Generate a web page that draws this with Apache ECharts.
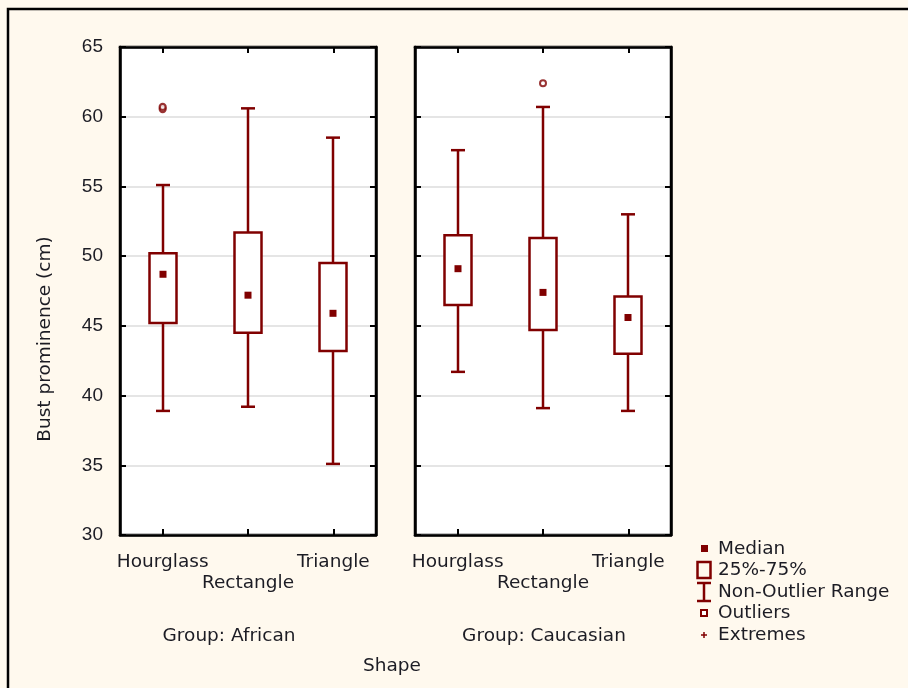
<!DOCTYPE html>
<html>
<head>
<meta charset="utf-8">
<script src="https://cdn.jsdelivr.net/npm/echarts@6/dist/echarts.min.js"></script>
<style>
  html, body { margin: 0; padding: 0; background: #FFF9EE; }
  #chart { width: 908px; height: 688px; }
</style>
</head>
<body>
<div id="chart"></div>
<script>
// Shapes along the x axis of each panel
const categories = ['Hourglass', 'Rectangle', 'Triangle'];
const groups = ['Group: African', 'Group: Caucasian'];

// Per shape: [index, min (non-outlier), Q1, median, Q3, max (non-outlier)]
const africanStats = [
  [0, 38.9, 45.2, 48.7, 50.2, 55.1],
  [1, 39.2, 44.5, 47.2, 51.7, 60.6],
  [2, 35.1, 43.2, 45.9, 49.5, 58.5]
];
const caucasianStats = [
  [0, 41.7, 46.5, 49.1, 51.5, 57.6],
  [1, 39.1, 44.7, 47.4, 51.3, 60.7],
  [2, 38.9, 43.0, 45.6, 47.1, 53.0]
];

// Outlying observations: [index, value]
const africanOutliers = [[0, 60.55], [0, 60.7]];
const caucasianOutliers = [[1, 62.4]];

// Value axis range
const yMin = 30, yMax = 65, yStep = 5;

const legendItems = ['Median', '25%-75%', 'Non-Outlier Range', 'Outliers', 'Extremes'];

const MAROON = '#800000';
const NUM_FONT = 'Liberation Sans, Arial, sans-serif';
const FONT = 'DejaVu Sans, sans-serif';
const TXT = '#1c1c24';
const FS = 19;
const WFS = 18.5;

function renderBox(params, api) {
  const idx = api.value(0);
  const pMin = api.coord([idx, api.value(1)]);
  const pQ1 = api.coord([idx, api.value(2)]);
  const pMed = api.coord([idx, api.value(3)]);
  const pQ3 = api.coord([idx, api.value(4)]);
  const pMax = api.coord([idx, api.value(5)]);
  const x = Math.round(pMin[0]);
  const hw = 13.5, cw = 7, lw = 2.5;
  const ls = () => ({ stroke: MAROON, lineWidth: lw, fill: null });
  return {
    type: 'group',
    children: [
      { type: 'line', shape: { x1: x, y1: pMax[1], x2: x, y2: pQ3[1] }, style: ls() },
      { type: 'line', shape: { x1: x, y1: pQ1[1], x2: x, y2: pMin[1] }, style: ls() },
      { type: 'line', shape: { x1: x - cw, y1: pMax[1], x2: x + cw, y2: pMax[1] }, style: ls() },
      { type: 'line', shape: { x1: x - cw, y1: pMin[1], x2: x + cw, y2: pMin[1] }, style: ls() },
      { type: 'rect', shape: { x: x - hw, y: pQ3[1], width: hw * 2, height: pQ1[1] - pQ3[1] },
        style: { stroke: MAROON, lineWidth: lw, fill: '#fff' } },
      { type: 'rect', shape: { x: x - 3.5, y: pMed[1] - 3.5, width: 7, height: 7 },
        style: { fill: MAROON } }
    ]
  };
}

const gridBase = { top: 47, height: 488, width: 256, show: true, backgroundColor: '#fff',
  borderColor: '#000', borderWidth: 2.5, containLabel: false };

function xAxisFor(gi, pos) {
  return {
    gridIndex: gi, type: 'category', data: categories, position: pos,
    axisLine: { show: true, lineStyle: { color: '#000', width: 2.5 } },
    axisTick: { show: true, inside: true, alignWithLabel: true, length: 6, lineStyle: { color: '#000', width: 2 } },
    axisLabel: pos === 'bottom' ? {
      show: true, color: TXT, fontFamily: FONT, fontSize: WFS, margin: 17, lineHeight: 21,
      interval: 0,
      formatter: (v, i) => (i === 1 ? '\n' + v : v)
    } : { show: false },
    splitLine: { show: false }
  };
}

function yAxisFor(gi, pos, labels, split) {
  return {
    gridIndex: gi, type: 'value', min: yMin, max: yMax, interval: yStep, position: pos,
    axisLine: { show: true, lineStyle: { color: '#000', width: 2.5 } },
    axisTick: { show: true, inside: true, length: 6, lineStyle: { color: '#000', width: 2 } },
    axisLabel: { show: labels, color: TXT, fontFamily: NUM_FONT, fontSize: FS, margin: 17 },
    splitLine: { show: split, lineStyle: { color: '#dcdcdc', width: 1.5 } }
  };
}

const legendY = [549, 570, 592, 613, 635];
const legendGraphics = [];
legendItems.forEach((t, i) => {
  legendGraphics.push({ type: 'text', x: 718, y: legendY[i],
    style: { text: t, fill: TXT, font: WFS + 'px ' + FONT, verticalAlign: 'middle' } });
});
legendGraphics.push(
  { type: 'rect', shape: { x: 701, y: legendY[0] - 4, width: 7, height: 7 }, style: { fill: MAROON } },
  { type: 'rect', shape: { x: 697.5, y: legendY[1] - 8, width: 13, height: 16 }, style: { fill: null, stroke: MAROON, lineWidth: 2.5 } },
  { type: 'line', shape: { x1: 697, y1: legendY[2] - 9, x2: 711, y2: legendY[2] - 9 }, style: { stroke: MAROON, lineWidth: 2.5 } },
  { type: 'line', shape: { x1: 704, y1: legendY[2] - 9, x2: 704, y2: legendY[2] + 9 }, style: { stroke: MAROON, lineWidth: 2.5 } },
  { type: 'line', shape: { x1: 697, y1: legendY[2] + 9, x2: 711, y2: legendY[2] + 9 }, style: { stroke: MAROON, lineWidth: 2.5 } },
  { type: 'rect', shape: { x: 701, y: legendY[3] - 3, width: 6, height: 6 }, style: { fill: '#fff', stroke: MAROON, lineWidth: 2 } },
  { type: 'line', shape: { x1: 701, y1: legendY[4], x2: 707, y2: legendY[4] }, style: { stroke: MAROON, lineWidth: 1.5 } },
  { type: 'line', shape: { x1: 704, y1: legendY[4] - 3, x2: 704, y2: legendY[4] + 3 }, style: { stroke: MAROON, lineWidth: 1.5 } }
);

const chart = echarts.init(document.getElementById('chart'), null, { renderer: 'canvas' });
chart.setOption({
  backgroundColor: '#FFF9EE',
  animation: false,
  grid: [
    Object.assign({}, gridBase, { left: 120 }),
    Object.assign({}, gridBase, { left: 415 })
  ],
  xAxis: [xAxisFor(0, 'bottom'), xAxisFor(0, 'top'), xAxisFor(1, 'bottom'), xAxisFor(1, 'top')],
  yAxis: [yAxisFor(0, 'left', true, true), yAxisFor(0, 'right', false, false),
          yAxisFor(1, 'left', false, true), yAxisFor(1, 'right', false, false)],
  series: [
    { type: 'custom', name: groups[0], xAxisIndex: 0, yAxisIndex: 0, renderItem: renderBox,
      data: africanStats, encode: { x: 0, y: [1, 2, 3, 4, 5] }, z: 5 },
    { type: 'custom', name: groups[1], xAxisIndex: 2, yAxisIndex: 2, renderItem: renderBox,
      data: caucasianStats, encode: { x: 0, y: [1, 2, 3, 4, 5] }, z: 5 },
    { type: 'scatter', xAxisIndex: 0, yAxisIndex: 0, data: africanOutliers, symbol: 'circle', symbolSize: 6,
      itemStyle: { color: '#fff', borderColor: MAROON, borderWidth: 2.2 }, z: 6 },
    { type: 'scatter', xAxisIndex: 2, yAxisIndex: 2, data: caucasianOutliers, symbol: 'circle', symbolSize: 6,
      itemStyle: { color: '#fff', borderColor: MAROON, borderWidth: 2 }, z: 6 }
  ],
  graphic: [
    { type: 'rect', shape: { x: 8, y: 9, width: 940, height: 720 }, style: { fill: null, stroke: '#000', lineWidth: 2.5 }, z: 100 },
    { type: 'text', x: 229, y: 636, style: { text: groups[0], fill: TXT, font: WFS + 'px ' + FONT, align: 'center', verticalAlign: 'middle' } },
    { type: 'text', x: 544, y: 636, style: { text: groups[1], fill: TXT, font: WFS + 'px ' + FONT, align: 'center', verticalAlign: 'middle' } },
    { type: 'text', x: 392, y: 666, style: { text: 'Shape', fill: TXT, font: WFS + 'px ' + FONT, align: 'center', verticalAlign: 'middle' } },
    { type: 'text', x: 45, y: 339, rotation: Math.PI / 2,
      style: { text: 'Bust prominence (cm)', fill: TXT, font: WFS + 'px ' + FONT, align: 'center', verticalAlign: 'middle' } }
  ].concat(legendGraphics)
});
</script>
</body>
</html>
